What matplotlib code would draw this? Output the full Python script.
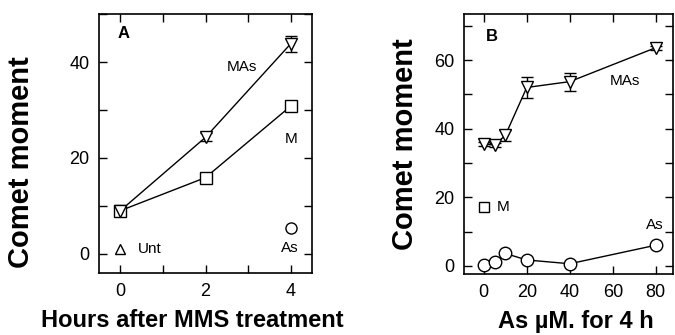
import matplotlib
matplotlib.use("Agg")
import matplotlib.pyplot as plt
from matplotlib.ticker import MultipleLocator

plt.rcParams['font.family'] = ['Liberation Sans', 'DejaVu Sans']

# Panel A data
hours = [0, 2, 4]
mas_a = [9, 24.3, 43.8]
mas_a_err = [0.5, 0.8, 1.7]
m_a = [9, 15.9, 30.8]
unt_x, unt_y = [0], [1]
as_a_x, as_a_y = [4], [5.3]

# Panel B data
conc = [0, 5, 10, 20, 40, 80]
mas_b = [35.5, 35.2, 38.0, 52.0, 53.7, 63.6]
mas_b_err = [0.5, 0.5, 1.5, 3.0, 2.6, 0.6]
as_b = [0.3, 1.0, 3.6, 1.7, 0.6, 6.0]
as_b_err = [0.3, 0.3, 0.5, 1.2, 0.3, 0.3]
m_b_x, m_b_y = [0], [17.2]

fig = plt.figure(figsize=(6.75, 3.35), dpi=100)
axA = fig.add_axes([0.1467, 0.185, 0.3155, 0.773])
axB = fig.add_axes([0.688, 0.182, 0.309, 0.776])

mk = dict(markerfacecolor='white', markeredgecolor='black', markeredgewidth=1.0, color='black', lw=1.0)

# Panel A
axA.errorbar(hours, mas_a, yerr=mas_a_err, marker='v', markersize=9, capsize=4, elinewidth=1.0, capthick=1.0, **mk)
axA.plot(hours, m_a, marker='s', markersize=8.5, **mk)
axA.plot(unt_x, unt_y, marker='^', markersize=7, linestyle='none', **mk)
axA.plot(as_a_x, as_a_y, marker='o', markersize=8, linestyle='none', **mk)
axA.set_xlim(-0.5, 4.5)
axA.set_ylim(-4, 50)
axA.xaxis.set_major_locator(MultipleLocator(2))
axA.xaxis.set_minor_locator(MultipleLocator(1))
axA.yaxis.set_major_locator(MultipleLocator(20))
axA.yaxis.set_minor_locator(MultipleLocator(10))
axA.text(2.85, 39, 'MAs', fontsize=11, ha='center', va='center')
axA.text(4.02, 24, 'M', fontsize=11, ha='center', va='center')
axA.text(3.98, 1.3, 'As', fontsize=11, ha='center', va='center')
axA.text(0.7, 1.0, 'Unt', fontsize=11, ha='center', va='center')
axA.text(0.08, 46, 'A', fontsize=12, fontweight='bold', ha='center', va='center')
axA.set_xlabel('Hours after MMS treatment', fontsize=17, fontweight='bold')
axA.xaxis.set_label_coords(0.437, -0.14)
axA.set_ylabel('Comet moment', fontsize=21, fontweight='bold')
axA.yaxis.set_label_coords(-0.30, 0.43)

# Panel B
axB.errorbar(conc, mas_b, yerr=mas_b_err, marker='v', markersize=9, capsize=4, elinewidth=1.0, capthick=1.0, **mk)
axB.errorbar(conc, as_b, yerr=as_b_err, marker='o', markersize=9, capsize=3, elinewidth=1.0, capthick=1.0, **mk)
axB.plot(m_b_x, m_b_y, marker='s', markersize=7.5, linestyle='none', **mk)
axB.set_xlim(-9, 88)
axB.set_ylim(-2.4, 73.4)
axB.xaxis.set_major_locator(MultipleLocator(20))
axB.yaxis.set_major_locator(MultipleLocator(20))
axB.yaxis.set_minor_locator(MultipleLocator(10))
axB.text(65.6, 54, 'MAs', fontsize=11, ha='center', va='center')
axB.text(79.6, 12, 'As', fontsize=11, ha='center', va='center')
axB.text(9, 17, 'M', fontsize=11, ha='center', va='center')
axB.text(3.9, 67, 'B', fontsize=12, fontweight='bold', ha='center', va='center')
axB.set_xlabel('As \u00b5M. for 4 h', fontsize=17, fontweight='bold')
axB.xaxis.set_label_coords(0.536, -0.14)
axB.set_ylabel('Comet moment', fontsize=21, fontweight='bold')
axB.yaxis.set_label_coords(-0.22, 0.5)

for ax in (axA, axB):
    for s in ax.spines.values():
        s.set_linewidth(1.2)
    ax.tick_params(which='both', direction='in', top=True, right=True, length=6, width=1.0, labelsize=13, pad=7)

fig.savefig('out.png', dpi=100)
